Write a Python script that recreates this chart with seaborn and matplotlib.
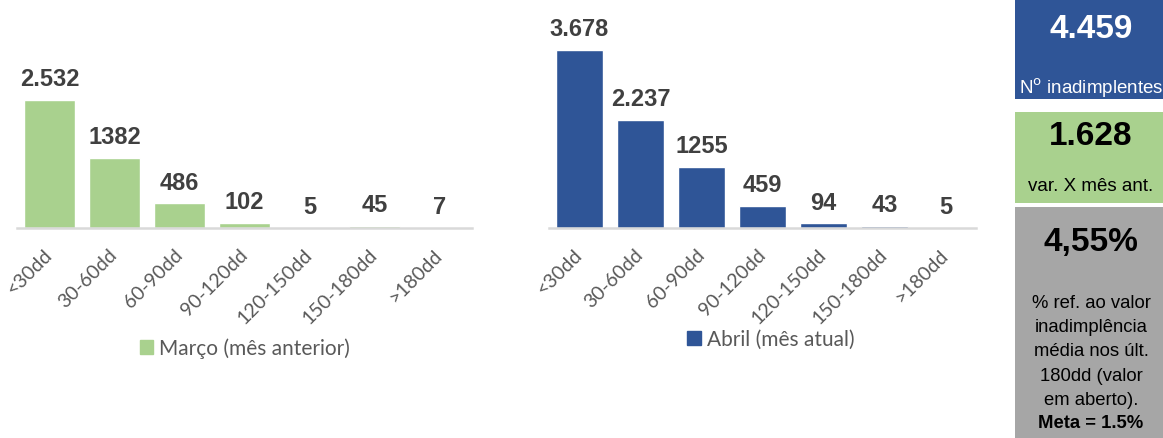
import matplotlib
matplotlib.use("Agg")
import matplotlib.pyplot as plt
from matplotlib.patches import Patch, Rectangle
import seaborn as sns

faixas = ["<30dd", "30-60dd", "60-90dd", "90-120dd", "120-150dd", "150-180dd", ">180dd"]
marco = [2532, 1382, 486, 102, 5, 45, 7]
marco_labels = ["2.532", "1382", "486", "102", "5", "45", "7"]
abril = [3678, 2237, 1255, 459, 94, 43, 5]
abril_labels = ["3.678", "2.237", "1255", "459", "94", "43", "5"]

verde = "#A9D18E"
azul = "#2F5597"
cinza = "#A6A6A6"

sns.set_style("white")
plt.rcParams["font.family"] = ["Liberation Sans", "DejaVu Sans"]

fig = plt.figure(figsize=(11.63, 4.39), dpi=100)
W, H = 1163, 439


def bar_chart(rect, vals, labels, color, ymax, legend_text, legend_pos):
    ax = fig.add_axes(rect)
    sns.barplot(x=faixas, y=vals, color=color, saturation=1, width=0.77, ax=ax)
    ax.set_xlim(-0.5, 6.5)
    ax.set_ylim(0, ymax)
    ax.bar_label(ax.containers[0], labels=labels, padding=7, fontsize=17,
                 fontweight="bold", color="#404040")
    ax.set_yticks([])
    ax.set_ylabel("")
    for s in ["left", "right", "top"]:
        ax.spines[s].set_visible(False)
    ax.spines["bottom"].set_color("#D9D9D9")
    ax.spines["bottom"].set_linewidth(1.8)
    ax.tick_params(axis="x", length=0, pad=17)
    for t in ax.get_xticklabels():
        t.set_rotation(45)
        t.set_ha("right")
        t.set_va("center")
        t.set_rotation_mode("anchor")
        t.set_fontfamily("Lato")
        t.set_fontsize(14)
        t.set_color("#595959")
    ax.legend(handles=[Patch(color=color, label=legend_text)], loc="center",
              bbox_to_anchor=legend_pos, bbox_transform=fig.transFigure,
              frameon=False, handlelength=0.65, handleheight=0.65,
              handletextpad=0.3, prop={"family": "Lato", "size": 15},
              labelcolor="#595959")
    return ax


base = 1 - 229 / H
bar_chart([17 / W, base, 455 / W, 229 / H], marco, marco_labels, verde, 4526,
          "Março (mês anterior)", (245 / W, 1 - 349 / H))
bar_chart([549 / W, base, 427 / W, 229 / H], abril, abril_labels, azul, 4722,
          "Abril (mês atual)", (771 / W, 1 - 340 / H))

# painel lateral
px = fig.add_axes([1015 / W, 0, 148 / W, 1])
px.set_xlim(0, 148)
px.set_ylim(H, 0)
px.axis("off")
px.add_patch(Rectangle((0, 0), 148, 100, color=azul, lw=0))
px.add_patch(Rectangle((0, 113), 148, 91, color=verde, lw=0))
px.add_patch(Rectangle((0, 208), 148, 231, color=cinza, lw=0))

px.text(76, 29, "4.459", ha="center", va="center", fontsize=24, fontweight="bold", color="white")
px.text(76, 88, r"N$^{\mathrm{o}}$ inadimplentes", ha="center", va="center", fontsize=13.5, color="white")
px.text(76, 137, "1.628", ha="center", va="center", fontsize=24, fontweight="bold", color="black")
px.text(76, 187, "var. X mês ant.", ha="center", va="center", fontsize=13.5, color="black")
px.text(76, 243, "4,55%", ha="center", va="center", fontsize=24, fontweight="bold", color="black")
px.text(76, 352, "% ref. ao valor\ninadimplência\nmédia nos últ.\n180dd (valor\nem aberto).",
        ha="center", va="center", fontsize=13.3, color="black", linespacing=1.55)
px.text(76, 424, "Meta = 1.5%", ha="center", va="center", fontsize=13.3,
        fontweight="bold", color="black")

fig.savefig("out.png", dpi=100)
